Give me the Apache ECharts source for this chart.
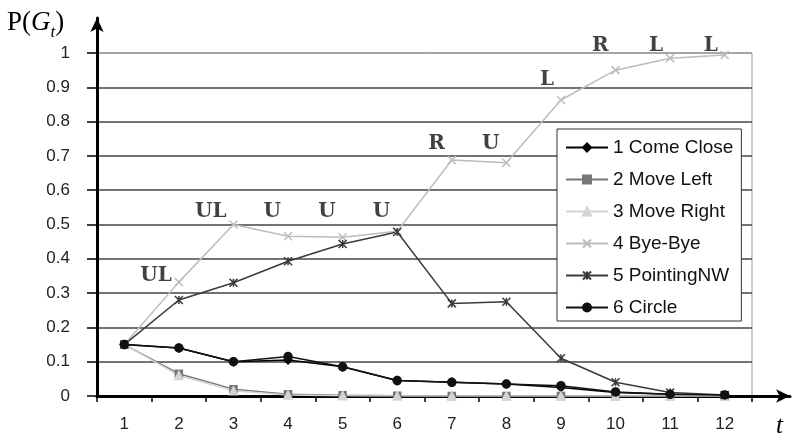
<!DOCTYPE html>
<html>
<head>
<meta charset="utf-8">
<script src="https://cdn.jsdelivr.net/npm/echarts@6/dist/echarts.min.js"></script>
<style>
  html, body { margin: 0; padding: 0; background: #fff; }
  #chart { width: 793px; height: 442px; }
</style>
</head>
<body>
<div id="chart"></div>
<script>
const categories = ['1', '2', '3', '4', '5', '6', '7', '8', '9', '10', '11', '12'];

const comeClose = [0.15, 0.14, 0.10, 0.105, 0.085, 0.045, 0.04, 0.035, 0.025, 0.01, 0.005, 0.002];
const moveLeft = [0.15, 0.065, 0.02, 0.005, 0.002, 0.001, 0, 0, 0, 0, 0, 0];
const moveRight = [0.15, 0.06, 0.015, 0.003, 0.001, 0, 0, 0, 0, 0, 0, 0];
const byeBye = [0.15, 0.332, 0.50, 0.466, 0.463, 0.48, 0.688, 0.68, 0.863, 0.95, 0.985, 0.994];
const pointingNW = [0.15, 0.28, 0.33, 0.393, 0.443, 0.478, 0.27, 0.275, 0.11, 0.04, 0.01, 0.003];
const circle = [0.15, 0.14, 0.10, 0.115, 0.085, 0.045, 0.04, 0.035, 0.03, 0.012, 0.005, 0.003];

// gesture annotations above the Bye-Bye curve (text + level in P units)
const gestureLabels = ['', 'UL', 'UL', 'U', 'U', 'U', 'R', 'U', 'L', 'R', 'L', 'L'];
const gestureLevels = [null, 0.35, 0.536, 0.536, 0.536, 0.536, 0.735, 0.735, 0.921, 1.02, 1.02, 1.02];

const crossPath = 'path://M0,0L10,10M10,0L0,10';
const starPath = 'path://M0,0L10,10M10,0L0,10M5,0L5,10';

function lineSeries(name, data, color, symbol, size) {
  return {
    name: name,
    type: 'line',
    data: data,
    xAxisIndex: 0,
    yAxisIndex: 0,
    symbol: symbol,
    symbolSize: size,
    showAllSymbol: true,
    lineStyle: { color: color, width: 1.5 },
    itemStyle: { color: color, borderColor: color, borderWidth: 1.5 },
    emphasis: { disabled: true },
    animation: false
  };
}

const chart = echarts.init(document.getElementById('chart'));

const gridLineColors = ['#444', '#444', '#444', '#444', '#444', '#444', '#444', '#444', '#444', '#444', '#999'];

const option = {
  backgroundColor: '#fff',
  animation: false,
  title: [
    {
      text: '{p|P(}{g|G}{s|t}{p|)}',
      left: 2,
      top: 4,
      textStyle: {
        fontWeight: 'normal',
        rich: {
          p: { fontFamily: 'Liberation Serif', fontSize: 27, color: '#000', verticalAlign: 'top' },
          g: { fontFamily: 'Liberation Serif', fontSize: 27, color: '#000', fontStyle: 'italic', verticalAlign: 'top' },
          s: { fontFamily: 'Liberation Serif', fontSize: 17, color: '#000', fontStyle: 'italic', verticalAlign: 'top', padding: [15, 0, 0, 0] }
        }
      }
    },
    {
      text: 't',
      left: 771,
      top: 409,
      textStyle: { fontFamily: 'Liberation Serif', fontStyle: 'italic', fontWeight: 'normal', fontSize: 25, color: '#000' }
    }
  ],
  legend: {
    orient: 'vertical',
    left: 557,
    top: 129,
    padding: [9, 8, 4, 8],
    itemWidth: 42,
    itemHeight: 10,
    itemGap: 13,
    backgroundColor: '#fff',
    borderColor: '#333',
    borderWidth: 1,
    data: ['1 Come Close', '2 Move Left', '3 Move Right', '4 Bye-Bye', '5 PointingNW', '6 Circle'],
    textStyle: { fontFamily: 'Liberation Sans', fontSize: 19, color: '#111' }
  },
  grid: [
    { left: 97, right: 41, top: 53, bottom: 46, show: true, borderColor: '#999', borderWidth: 1, backgroundColor: 'transparent' },
    { left: 97, right: 3, top: 18, bottom: 46 }
  ],
  xAxis: [
    {
      gridIndex: 0,
      type: 'category',
      data: categories,
      boundaryGap: true,
      axisLine: { show: false },
      axisTick: { show: true, length: 6, lineStyle: { color: '#000', width: 1.5 } },
      axisLabel: { fontFamily: 'Liberation Sans', fontSize: 17, color: '#222', margin: 20 },
      splitLine: { show: false }
    },
    {
      gridIndex: 1,
      type: 'value',
      min: 0,
      max: 1,
      axisLine: { show: true, symbol: ['none', 'arrow'], symbolSize: [10, 14], lineStyle: { color: '#000', width: 3 } },
      axisTick: { show: false },
      axisLabel: { show: false },
      splitLine: { show: false }
    }
  ],
  yAxis: [
    {
      gridIndex: 0,
      type: 'value',
      min: 0,
      max: 1,
      interval: 0.1,
      axisLine: { show: false },
      axisTick: { show: true, length: 10, lineStyle: { color: '#000', width: 1.5 } },
      axisLabel: { fontFamily: 'Liberation Sans', fontSize: 17, color: '#222', margin: 27 },
      splitLine: { show: true, lineStyle: { color: gridLineColors, width: 1.5 } }
    },
    {
      gridIndex: 1,
      type: 'value',
      min: 0,
      max: 1,
      axisLine: { show: true, symbol: ['none', 'arrow'], symbolSize: [10, 14], lineStyle: { color: '#000', width: 3 } },
      axisTick: { show: false },
      axisLabel: { show: false },
      splitLine: { show: false }
    }
  ],
  series: [
    lineSeries('1 Come Close', comeClose, '#000', 'diamond', 8),
    lineSeries('2 Move Left', moveLeft, '#777', 'rect', 7),
    lineSeries('3 Move Right', moveRight, '#d4d4d4', 'triangle', 8),
    lineSeries('4 Bye-Bye', byeBye, '#bdbdbd', crossPath, 8),
    lineSeries('5 PointingNW', pointingNW, '#3a3a3a', starPath, 8),
    lineSeries('6 Circle', circle, '#111', 'circle', 8),
    {
      name: 'gestures',
      type: 'scatter',
      xAxisIndex: 0,
      yAxisIndex: 0,
      clip: false,
      silent: true,
      symbolSize: 1,
      itemStyle: { color: 'transparent' },
      data: gestureLabels
        .map((g, i) => ({ name: g, value: [i, gestureLevels[i]] }))
        .filter(d => d.name !== ''),
      label: {
        show: true,
        position: 'inside',
        align: 'right',
        verticalAlign: 'middle',
        offset: [-7, 0],
        formatter: '{b}',
        fontFamily: 'DejaVu Serif',
        fontWeight: 'bold',
        fontSize: 20,
        color: '#111'
      }
    }
  ]
};

chart.setOption(option);
</script>
</body>
</html>
